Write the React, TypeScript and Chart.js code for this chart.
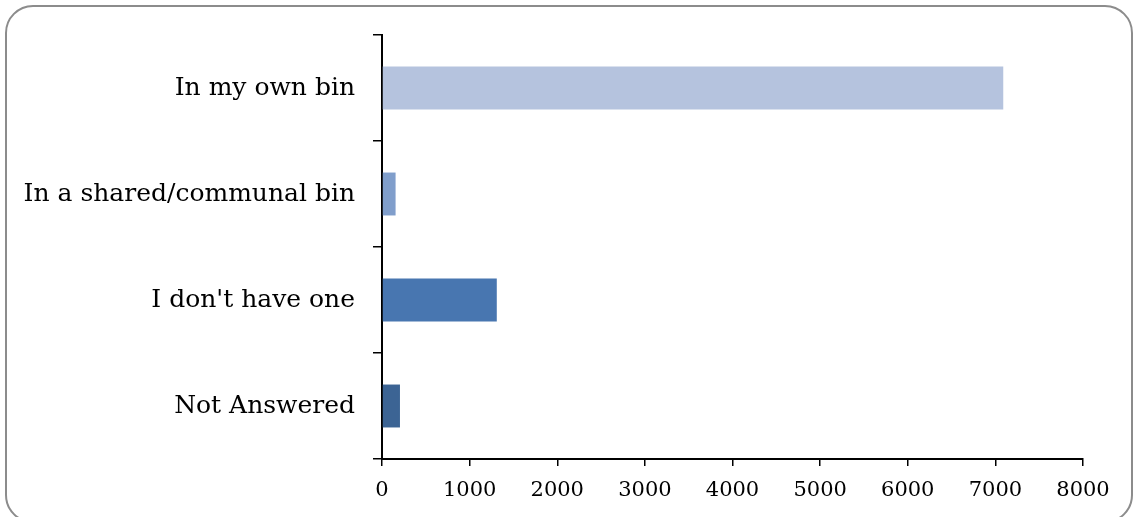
import React, { useEffect, useRef } from "react";
import { Chart, registerables } from "chart.js";

Chart.register(...registerables);

const categories = ["In my own bin", "In a shared/communal bin", "I don't have one", "Not Answered"];
const counts = [7090, 155, 1310, 205];
const barColors = ["#b5c3de", "#809ecb", "#4876b0", "#3c6494"];
const xTicks = [0, 1000, 2000, 3000, 4000, 5000, 6000, 7000, 8000];

export default function App() {
  const ref = useRef<HTMLCanvasElement>(null);
  useEffect(() => {
    if (!ref.current) return;
    const chart = new Chart(ref.current, {
      type: "bar",
      data: {
        labels: categories,
        datasets: [
          {
            data: counts,
            backgroundColor: barColors,
            borderWidth: 0,
            categoryPercentage: 1,
            barPercentage: 0.405,
          },
        ],
      },
      options: {
        indexAxis: "y",
        animation: false,
        responsive: false,
        maintainAspectRatio: false,
        layout: { padding: { top: 35, right: 50, left: 0, bottom: 0 } },
        plugins: { legend: { display: false }, tooltip: { enabled: false } },
        scales: {
          x: {
            min: xTicks[0],
            max: xTicks[xTicks.length - 1],
            afterFit: (s: any) => {
              s.height = 58;
            },
            afterBuildTicks: (s: any) => {
              s.ticks = xTicks.map((v) => ({ value: v }));
            },
            grid: {
              drawOnChartArea: false,
              drawTicks: true,
              tickLength: 7,
              color: "#000",
              lineWidth: 1.5,
            },
            border: { display: true, color: "#000", width: 2 },
            ticks: {
              color: "#000",
              padding: 12,
              maxRotation: 0,
              autoSkip: false,
              callback: (v: any) => String(v),
              font: { family: "'DejaVu Serif'", size: 21 },
            },
          },
          y: {
            afterFit: (s: any) => {
              s.width = 382;
            },
            grid: {
              drawOnChartArea: false,
              drawTicks: true,
              tickLength: 9,
              color: "#000",
              lineWidth: 1.5,
            },
            border: { display: true, color: "#000", width: 2 },
            ticks: {
              color: "#000",
              padding: 18,
              autoSkip: false,
              font: { family: "'DejaVu Serif'", size: 25 },
            },
          },
        },
      },
    });
    return () => chart.destroy();
  }, []);

  return (
    <div style={{ position: "absolute", left: 0, top: 0, width: 1133, height: 517, overflow: "hidden", background: "#fff" }}>
      <div
        style={{
          position: "absolute",
          left: 5,
          top: 5,
          width: 1124,
          height: 514,
          border: "2px solid #8c8c8c",
          borderRadius: 28,
        }}
      />
      <canvas ref={ref} width={1133} height={517} style={{ position: "absolute", left: 0, top: 0 }} />
    </div>
  );
}
